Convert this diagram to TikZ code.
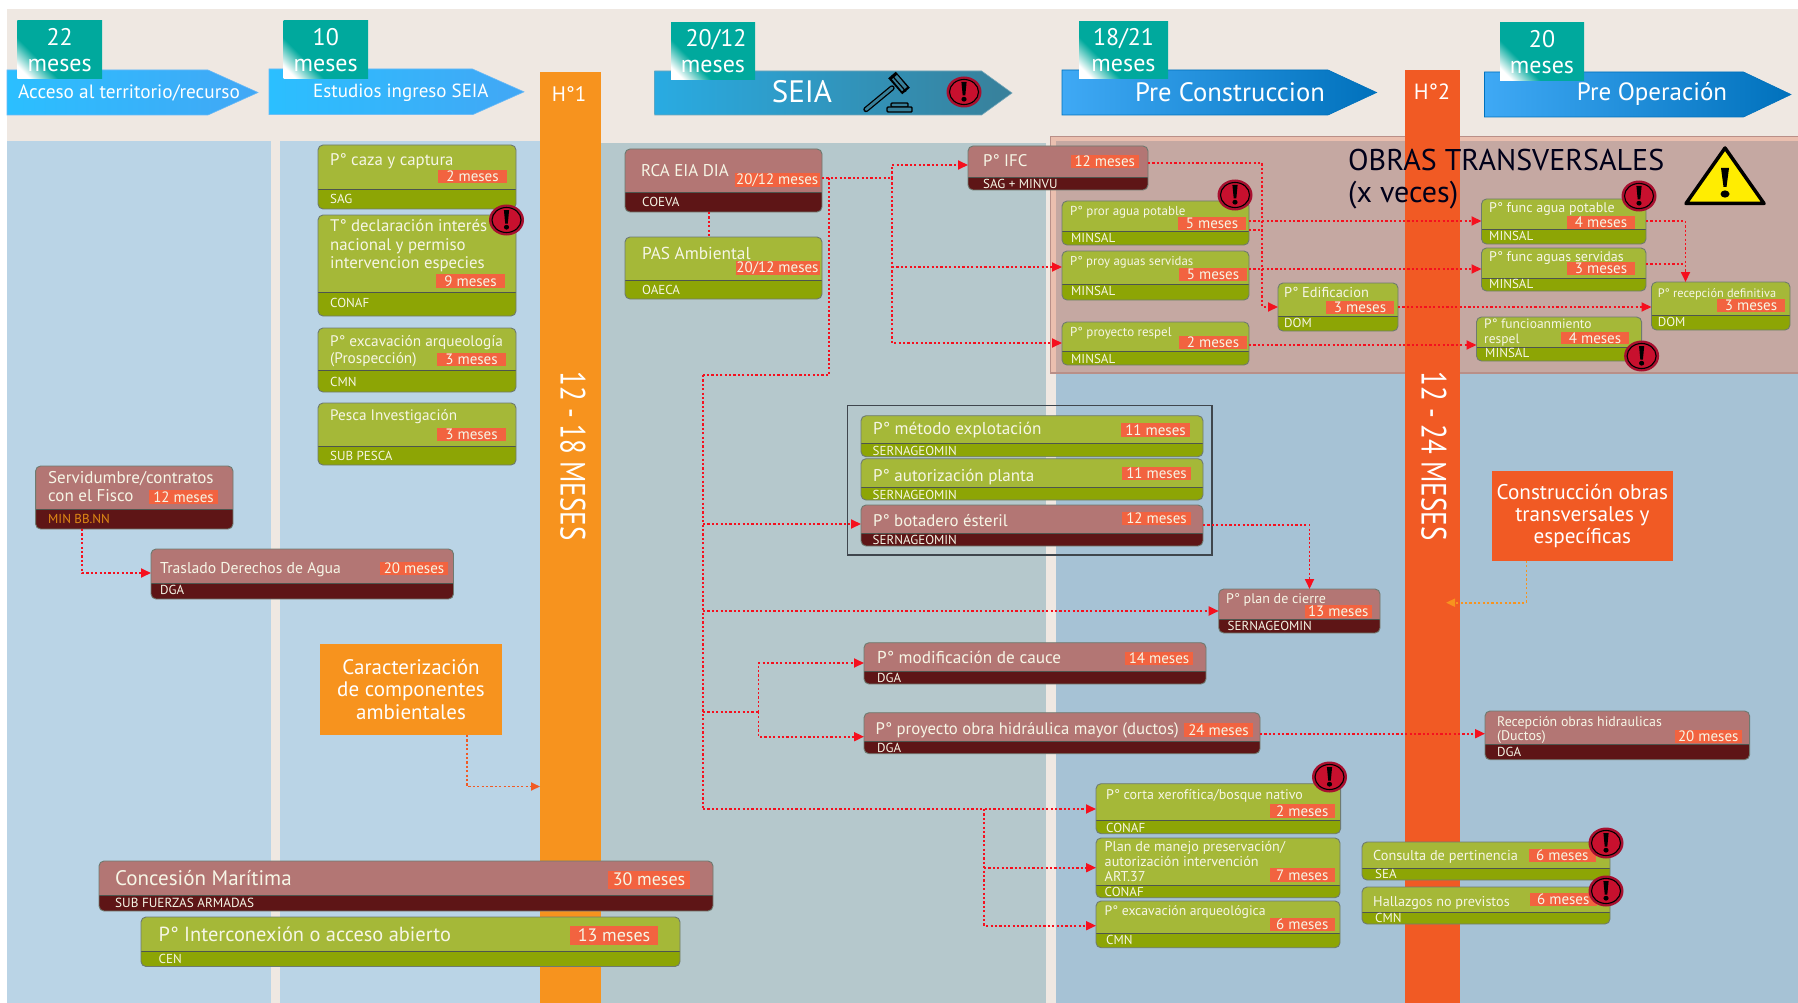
\documentclass[tikz,border=0pt]{standalone}
\usepackage{fontspec}
\setmainfont{PT Sans}
\usetikzlibrary{arrows.meta,fit,calc}
\definecolor{beige}{HTML}{EFE8E2}
\definecolor{panelA}{HTML}{BAD4E6}
\definecolor{panelB}{HTML}{B5C8CC}
\definecolor{panelC}{HTML}{A6C2D5}
\definecolor{pinkA}{HTML}{C5A8A2}
\definecolor{pinkB}{HTML}{EBBFAF}
\definecolor{pinkL}{HTML}{B98F88}
\definecolor{gL}{HTML}{A5B838}
\definecolor{gD}{HTML}{8DA505}
\definecolor{mL}{HTML}{B37674}
\definecolor{mD}{HTML}{5E1516}
\definecolor{bdgc}{HTML}{F26340}
\definecolor{tagc}{HTML}{00A99D}
\definecolor{orgA}{HTML}{F7931E}
\definecolor{orgB}{HTML}{F15A24}
\definecolor{linkc}{HTML}{F5101E}
\definecolor{cream}{HTML}{F6F6E6}
\definecolor{frameC}{HTML}{6E7A70}
\definecolor{warnR}{HTML}{C8102E}
\definecolor{warnE}{HTML}{A80F2F}
\definecolor{minorg}{HTML}{E08A14}
\definecolor{aBlue}{HTML}{2BBFFF}
\definecolor{bBlue}{HTML}{42A7F5}
\definecolor{cBlue}{HTML}{29ABE2}
\definecolor{dBlue}{HTML}{38809A}
\definecolor{eBlue}{HTML}{3FA9F5}
\definecolor{fBlue}{HTML}{0071BC}
\pgfdeclareverticalshading{tagsh}{100bp}{color(0bp)=(white);color(21bp)=(white);color(35bp)=(tagc);color(100bp)=(tagc)}
\tikzset{
 boxframe/.style={draw=frameC,line width=.9pt,rounded corners=5pt,inner sep=0pt,outer sep=0pt},
 divline/.style={draw=frameC!70!black,line width=.9pt},
 link/.style={draw=linkc,line width=1.8pt,dash pattern=on 2.2pt off 2.2pt},
 linka/.style={link,-{Triangle[length=10pt,width=9pt]}},
 tagbox/.style={shading=tagsh,shading angle=-45,inner sep=0pt,outer sep=0pt,text=white,align=center,font=\fontsize{24}{26}\selectfont},
 colorbar/.style={inner sep=0pt,outer sep=0pt},
 block/.style={inner sep=0pt,outer sep=0pt,align=center,text=white}
}
\newcommand{\tbox}[7]{%
 \fill[#7L,rounded corners=5pt] (#2,#3) rectangle (#4,#5);
 \begin{scope}
 \clip[rounded corners=5pt] (#2,#3) rectangle (#4,#5);
 \fill[#7D] (#2,#6) rectangle (#4,#5);
 \draw[divline] (#2,#6) -- (#4,#6);
 \end{scope}
 \node[boxframe,fit={(#2,#3) (#4,#5)}] (#1) {};
}
\newcommand{\lab}[6]{\node[anchor=base west,inner sep=0pt,yshift=-0.36*#4pt,text=#5,font=\fontsize{#4}{#4}\selectfont] (#1) at (#2,#3) {#6};}
\newcommand{\mlab}[7]{\node[anchor=west,align=left,inner sep=0pt,text=#6,font=\fontsize{#4}{#5}\selectfont] (#1) at (#2,#3) {#7};}
\newcommand{\bdg}[6]{\node[fill=bdgc,inner sep=0pt,outer sep=0pt,text=cream,minimum width={(#4-#2)*1pt},minimum height={(#5-#3)*1pt},font=\fontsize{15}{15}\selectfont] (#1) at ({(#2+#4)/2},{(#3+#5)/2}) {#6};}
\newcommand{\warnicon}[2]{%
 \begin{scope}[shift={(#1,#2)}]
 \fill[warnE] (0,0) ellipse (17.5 and 15.5);
 \draw[black,fill=warnR,line width=1.1pt] (0,0) ellipse (14.5 and 12.5);
 \fill[black] (-2.6,-10) -- (2.6,-10) -- (1.3,3.5) -- (-1.3,3.5) -- cycle;
 \fill[black] (0,7.2) ellipse (2.6 and 2.4);
 \end{scope}}
% x1, xshoulder, xtip, ytop, ybottom, colL, colR, edge
\newcommand{\phase}[8]{%
 \shade[left color=#6,right color=#7] (#1,#4) -- (#2,#4) -- (#3,{(#4+#5)/2}) -- (#2,#5) -- (#1,#5) -- cycle;
 \draw[#8,line width=.6pt] (#1,#4) -- (#2,#4) -- (#3,{(#4+#5)/2}) -- (#2,#5) -- (#1,#5) -- cycle;}
\newcommand{\tagb}[6]{\node[tagbox,minimum width={(#4-#2)*1pt},minimum height={(#5-#3)*1pt}] (#1) at ({(#2+#4)/2},{(#3+#5)/2}) {#6};}
\begin{document}
\begin{tikzpicture}[x=1pt,y=-1pt]
\useasboundingbox (0,0) rectangle (1798,1003);
\fill[white] (0,0) rectangle (1798,1003);
\fill[beige] (7,9) rectangle (1798,1003);
% panels
\fill[panelA] (7,141) rectangle (270.5,1003);
\fill[panelA] (280,141) rectangle (540,1003);
\fill[panelB] (601,143) rectangle (1046,1003);
\fill[panelC] (1056,141) rectangle (1798,1003);
% obras transversales panel
\fill[pinkB] (1050,136) rectangle (1798,373);
\fill[pinkA] (1056,141) rectangle (1798,372);
\draw[pinkL,line width=.8pt] (1050,373) -- (1050,136) -- (1798,136);
\draw[pinkL,line width=1.2pt] (1050,373) -- (1798,373);
% milestone bars
\node[colorbar,fill=orgA,fit={(540,72) (601,1003)}] (barA) {};
\node[colorbar,fill=orgB,fit={(1405,70) (1460,1003)}] (barB) {};
% phase arrows
\phase{7}{208}{258}{70}{115}{aBlue}{bBlue}{bBlue!80!white}
\phase{269}{472.5}{524}{69}{114.7}{aBlue}{bBlue}{bBlue!80!white}
\phase{654.6}{981.6}{1012}{71}{115}{cBlue}{dBlue}{dBlue!70!white}
\phase{1062}{1328}{1376.6}{70}{115}{eBlue}{fBlue}{fBlue}
\phase{1484.5}{1743.5}{1791}{72}{117}{eBlue}{fBlue}{fBlue}
\lab{tA}{18}{92}{19.3}{white}{Acceso al territorio/recurso}
\lab{tB}{313}{91}{19}{white}{Estudios ingreso SEIA}
\node[text=white,inner sep=0pt,font=\fontsize{31}{31}\selectfont] (tC) at (802,92) {SEIA};
\node[text=white,inner sep=0pt,font=\fontsize{26.6}{26.6}\selectfont] (tD) at (1230,92) {Pre Construccion};
\node[text=white,inner sep=0pt,font=\fontsize{25}{25}\selectfont] (tE) at (1652,94) {Pre Operación};
% duration tags
\tagb{tagA}{17.4}{21}{102}{79}{22\\meses}
\tagb{tagB}{283.5}{21}{368}{79}{10\\meses}
\tagb{tagC}{671}{23}{755}{80}{\hspace{6pt}20/12\\meses}
\tagb{tagD}{1079}{22}{1168}{79}{18/21\\meses}
\tagb{tagE}{1500}{23}{1584}{81}{20\\meses}
% gavel
\fill[black] (895.8,71.75) -- (909.8,87.75) -- (902.2,94.25) -- (888.2,78.25) -- cycle;
\fill[dBlue] (897,75) -- (907,87) -- (902,91.2) -- (892,79.2) -- cycle;
\draw[black,line width=1.2pt] (892,75.5) -- (906,91.5);
\draw[black,line width=5.4pt,line cap=round] (892,88) -- (866,109.5);
\draw[dBlue,line width=2.8pt,line cap=round] (892,88) -- (866,109.5);
\draw[black,line width=1.4pt,rounded corners=1pt,fill=dBlue] (891,103) rectangle (908,107);
\draw[black,line width=1.4pt,rounded corners=1pt,fill=dBlue] (887,107) rectangle (912,112);
% Left and study boxes
\tbox{caza}{318}{145}{516}{209}{189}{g}
\tbox{decl}{318}{215}{516}{316}{292}{g}
\tbox{exca}{318}{328}{516}{392}{370}{g}
\tbox{pesca}{318}{403}{516}{465}{446}{g}
\tbox{serv}{35.6}{466}{233}{529}{509}{m}
\tbox{tras}{151}{549}{453.5}{599}{583.5}{m}
\tbox{conc}{99}{861}{713}{911}{895}{m}
\tbox{inter}{141}{917}{680}{966.5}{951}{g}
\lab{cazaT}{330}{159}{16.8}{cream}{P° caza y captura}
\bdg{cazaB}{438}{170}{507}{183}{2 meses}
\lab{cazaA}{330}{199}{13}{cream}{SAG}
\mlab{declT}{330}{246}{16.8}{18.5}{cream}{T° declaración interés\\nacional y permiso\\intervencion especies}
\bdg{declB}{436}{274}{505}{288}{9 meses}
\lab{declA}{330}{303}{13}{cream}{CONAF}
\mlab{excaT}{330}{351}{15.3}{16.5}{cream}{P° excavación arqueología\\(Prospección)}
\bdg{excaB}{437}{353}{506}{366}{3 meses}
\lab{excaA}{330}{382}{13}{cream}{CMN}
\lab{pescaT}{330}{415}{15.2}{cream}{Pesca Investigación}
\bdg{pescaB}{437}{428}{506}{441}{3 meses}
\lab{pescaA}{330}{456}{13}{cream}{SUB PESCA}
\mlab{servT}{48}{487}{17}{18}{cream}{Servidumbre/contratos\\con el Fisco}
\bdg{servB}{149}{490}{218}{504}{12 meses}
\lab{servA}{48}{519}{13}{minorg}{MIN BB.NN}
\lab{trasT}{160}{568}{15.7}{cream}{Traslado Derechos de Agua}
\bdg{trasB}{380}{562}{448}{575}{20 meses}
\lab{trasA}{160}{590}{13}{cream}{DGA}
\lab{concT}{115}{878}{21}{cream}{Concesión Marítima}
\node[fill=bdgc,inner sep=0pt,text=cream,minimum width=82pt,minimum height=18pt,font=\fontsize{18}{18}\selectfont] (concB) at (649,879.5) {30 meses};
\lab{concA}{115}{903}{13.2}{cream}{SUB FUERZAS ARMADAS}
\lab{interT}{158.5}{934}{20.4}{cream}{P° Interconexión o acceso abierto}
\node[fill=bdgc,inner sep=0pt,text=cream,minimum width=88pt,minimum height=19pt,font=\fontsize{18}{18}\selectfont] (interB) at (614,935) {13 meses};
\lab{interA}{158.5}{959}{13}{cream}{CEN}
% SEIA boxes
\tbox{rca}{625}{149}{822}{212}{192}{m}
\tbox{pas}{625}{237}{822}{299}{280}{g}
\tbox{ifc}{968}{146}{1148}{190}{177}{m}
\lab{rcaT}{641}{170}{17}{cream}{RCA EIA DIA}
\bdg{rcaB}{735}{173}{819.5}{187}{20/12 meses}
\lab{rcaA}{642}{202}{13}{cream}{COEVA}
\lab{pasT}{642}{253}{17.3}{cream}{PAS Ambiental}
\bdg{pasB}{735.5}{261}{819.5}{275}{20/12 meses}
\lab{pasA}{642}{290}{13}{cream}{OAECA}
\lab{ifcT}{983}{160}{16.8}{cream}{P° IFC}
\bdg{ifcB}{1070.5}{155}{1139}{168}{12 meses}
\lab{ifcA}{983}{184}{13}{cream}{SAG + MINVU}
% Obras transversales boxes
\tbox{pror}{1062}{201}{1249}{245}{231}{g}
\tbox{proy}{1062}{251}{1249}{300}{284}{g}
\tbox{resp}{1062}{322}{1249}{365}{351}{g}
\tbox{edif}{1278}{283}{1398}{331}{316}{g}
\tbox{fagua}{1481.5}{199}{1646}{244}{229}{g}
\tbox{fserv}{1481.5}{248}{1646}{291}{278}{g}
\tbox{frsp}{1476.5}{317}{1641.6}{361}{347}{g}
\tbox{rdef}{1651.5}{282}{1790}{330}{315}{g}
\lab{prorT}{1070}{211}{13}{cream}{P° pror agua potable}
\bdg{prorB}{1178}{217}{1246}{230}{5 meses}
\lab{prorA}{1071}{238}{13}{cream}{MINSAL}
\lab{proyT}{1070}{261}{12.8}{cream}{P° proy aguas servidas}
\bdg{proyB}{1179}{268}{1247}{281}{5 meses}
\lab{proyA}{1071}{291}{13}{cream}{MINSAL}
\lab{respT}{1070}{332}{13}{cream}{P° proyecto respel}
\bdg{respB}{1179}{336}{1247}{349}{2 meses}
\lab{respA}{1071}{359}{13}{cream}{MINSAL}
\lab{edifT}{1284}{292}{14.4}{cream}{P° Edificacion}
\bdg{edifB}{1326}{301}{1394}{314}{3 meses}
\lab{edifA}{1284}{323}{13}{cream}{DOM}
\lab{faguaT}{1489}{207}{14}{cream}{P° func agua potable}
\bdg{faguaB}{1567}{216}{1635}{229}{4 meses}
\lab{faguaA}{1489}{236}{13}{cream}{MINSAL}
\lab{fservT}{1489}{256}{14}{cream}{P° func aguas servidas}
\bdg{fservB}{1567}{262}{1635}{275}{3 meses}
\lab{fservA}{1489}{284}{13}{cream}{MINSAL}
\mlab{frspT}{1484}{332.5}{13.5}{14.5}{cream}{P° funcioanmiento\\respel}
\bdg{frspB}{1561}{332}{1629}{344}{4 meses}
\lab{frspA}{1485}{353}{13}{cream}{MINSAL}
\lab{rdefT}{1657.6}{293}{12.3}{cream}{P° recepción definitiva}
\bdg{rdefB}{1717}{299}{1785}{312}{3 meses}
\lab{rdefA}{1657.6}{322}{13}{cream}{DOM}
% Sernageomin group
\node[draw=black!80!cyan,line width=1.4pt,inner sep=0pt,outer sep=0pt,fit={(847.6,405.7) (1212,555)}] (grp) {};
\tbox{meto}{861}{415.7}{1203}{456.7}{443.7}{g}
\tbox{auto}{861}{458.7}{1203}{500}{487}{g}
\tbox{bota}{861}{505}{1203}{546}{533}{m}
\lab{metoT}{873}{428}{17.2}{cream}{P° método explotación}
\bdg{metoB}{1121}{423}{1190}{437}{11 meses}
\lab{metoA}{872.5}{451}{13}{cream}{SERNAGEOMIN}
\lab{autoT}{873}{475}{17}{cream}{P° autorización planta}
\bdg{autoB}{1122}{467}{1191}{480}{11 meses}
\lab{autoA}{872.5}{495}{13}{cream}{SERNAGEOMIN}
\lab{botaT}{873}{520}{16.8}{cream}{P° botadero ésteril}
\bdg{botaB}{1122}{512}{1191}{525}{12 meses}
\lab{botaA}{872.5}{540}{13}{cream}{SERNAGEOMIN}
% Middle boxes
\tbox{cier}{1218.7}{589}{1380}{633}{619}{m}
\lab{cierT}{1226}{598}{14}{cream}{P° plan de cierre}
\bdg{cierB}{1304.5}{605}{1372}{618}{13 meses}
\lab{cierA}{1227.5}{626}{13}{cream}{SERNAGEOMIN}
\tbox{modi}{864}{642.7}{1206}{684}{671}{m}
\lab{modiT}{877}{657}{17.2}{cream}{P° modificación de cauce}
\bdg{modiB}{1125}{652}{1193}{665}{14 meses}
\lab{modiA}{877}{678}{13}{cream}{DGA}
\tbox{hidr}{864}{712.7}{1260}{753.7}{741.7}{m}
\lab{hidrT}{875.5}{728}{16.7}{cream}{P° proyecto obra hidráulica mayor (ductos)}
\bdg{hidrB}{1184}{723}{1253}{737}{24 meses}
\lab{hidrA}{877}{747.6}{13}{cream}{DGA}
\tbox{rhid}{1485}{711}{1749.6}{759.7}{744}{m}
\mlab{rhidT}{1497}{730}{13.9}{14}{cream}{Recepción obras hidraulicas\\(Ductos)}
\bdg{rhidB}{1674.5}{730}{1742}{743}{20 meses}
\lab{rhidA}{1497}{751.7}{13}{cream}{DGA}
% Lower boxes
\tbox{cort}{1096}{783.7}{1340.6}{833.7}{820}{g}
\lab{cortT}{1106}{794}{14}{cream}{P° corta xerofítica/bosque nativo}
\bdg{cortB}{1269.6}{804}{1335}{818}{2 meses}
\lab{cortA}{1106}{828}{13}{cream}{CONAF}
\tbox{plan}{1096}{838}{1340}{897.7}{885}{g}
\mlab{planT}{1104.5}{861.5}{14.2}{14.7}{cream}{Plan de manejo preservación/\\autorización intervención\\ART.37}
\bdg{planB}{1269.6}{868}{1335}{881.7}{7 meses}
\lab{planA}{1104.5}{891.7}{13}{cream}{CONAF}
\tbox{arqu}{1096}{901}{1340}{947.7}{933}{g}
\lab{arquT}{1104.5}{911}{13.7}{cream}{P° excavación arqueológica}
\bdg{arquB}{1269.6}{917.7}{1335}{931}{6 meses}
\lab{arquA}{1106}{940}{13}{cream}{CMN}
\tbox{cons}{1362}{842}{1610}{880}{868}{g}
\lab{consT}{1373}{855}{14.3}{cream}{Consulta de pertinencia}
\bdg{consB}{1528.6}{849}{1596}{861.7}{6 meses}
\lab{consA}{1375}{874}{13}{cream}{SEA}
\tbox{hall}{1362}{887}{1610}{924}{912.7}{g}
\lab{hallT}{1373}{901.7}{14.2}{cream}{Hallazgos no previstos}
\bdg{hallB}{1529.5}{893}{1597}{905.7}{6 meses}
\lab{hallA}{1375}{918}{13}{cream}{CMN}
% blocks with text
\node[block,fill=orgA,minimum width=182pt,minimum height=91pt,font=\fontsize{21}{22.3}\selectfont] (carac) at (411,689.5) {Caracterización\\de componentes\\ambientales};
\node[block,fill=orgB,minimum width=181pt,minimum height=90pt,font=\fontsize{21.2}{22.3}\selectfont] (const) at (1582.4,515.8) {Construcción obras\\transversales y\\específicas};
% connectors
\coordinate (j1) at (892,178);
\coordinate (j2) at (829,178);
\coordinate (j3) at (703,375);
\coordinate (j4) at (758.5,711.7);
\coordinate (j5) at (984,809);
\draw[link] (rca.south -| 709,0) -- (pas.north -| 709,0);
\draw[link] (rca.east |- j1) -- (j1);
\draw[linka] (j1) |- (ifc.west |- 0,165);
\draw[linka] (j1) |- (resp.west |- 0,343);
\draw[linka] (j1 |- 0,267) -- (proy.west |- 0,267);
\draw[link] (j2) |- (j3);
\draw[link] (j3) -- (j3 |- 0,809);
\draw[linka] (j3 |- 0,524) -- (bota.west |- 0,524);
\draw[linka] (j3 |- 0,611) -- (cier.west |- 0,611);
\draw[link] (j3 |- j4) -- (j4);
\draw[linka] (j4) |- (modi.west |- 0,663);
\draw[linka] (j4) |- (hidr.west |- 0,736.7);
\draw[linka] (j3 |- j5) -- (cort.west |- j5);
\draw[linka] (j5) |- (arqu.west |- 0,925.7);
\draw[linka] (j5 |- 0,867.7) -- (plan.west |- 0,867.7);
\coordinate (j6) at (1262,163);
\draw[linka] (ifc.east |- j6) -- (j6) |- (edif.west |- 0,307);
\draw[linka] (pror.east |- 0,221) -- (fagua.west |- 0,221);
\draw[link] (pror.east |- 0,230) -- (j6 |- 0,230);
\draw[linka] (proy.east |- 0,269) -- (fserv.west |- 0,269);
\draw[linka] (resp.east |- 0,345) -- (frsp.west |- 0,345);
\draw[linka] (edif.east |- 0,307) -- (rdef.west |- 0,307);
\coordinate (j7) at (1685.5,221);
\draw[link] (fagua.east |- j7) -- (j7);
\draw[linka] (j7) -- (rdef.north -| j7);
\draw[link] (fserv.east |- 0,264) -- (j7 |- 0,264);
\draw[linka] (bota.east |- 0,525) -| (cier.north -| 1309.5,0);
\draw[linka] (hidr.east |- 0,733.7) -- (rhid.west |- 0,733.7);
\draw[linka] (serv.south -| 82,0) |- (tras.west |- 0,573);
\draw[link,draw=orgB,-{Triangle[length=9pt,width=8pt,fill=orgB]}] (carac.south -| 467,0) |- (barA.west |- 0,786.5);
\coordinate (j8) at (1446,602.7);
\draw[link,draw=orgA,-{Triangle[length=9pt,width=8pt,fill=orgA]}] (const.south -| 1526.5,0) |- (j8);
% warnings
\warnicon{506.5}{220}
\warnicon{964}{92}
\warnicon{1235}{195}
\warnicon{1639}{196}
\warnicon{1641.6}{356}
\warnicon{1329.5}{777}
\warnicon{1606}{843}
\warnicon{1606}{891}
% bars texts
\node[text=white,inner sep=0pt,font=\fontsize{21}{21}\selectfont] (h1) at (569,94) {H°1};
\node[text=white,inner sep=0pt,font=\fontsize{22}{22}\selectfont] (h2) at (1432,92) {H°2};
\node[text=white,inner sep=0pt,rotate=-90,font=\fontsize{27}{27}\selectfont] (m1) at (573,456) {\scalebox{1}[1.3]{12 - 18 MESES}};
\node[text=white,inner sep=0pt,rotate=-90,font=\fontsize{27}{27}\selectfont] (m2) at (1434,456) {\scalebox{1}[1.3]{12 - 24 MESES}};
% obras transversales title
\node[anchor=west,align=left,inner sep=0pt,text=black!90!blue,font=\fontsize{30}{32.5}\selectfont] (obras) at (1348,179) {OBRAS TRANSVERSALES\\(x veces)};
\draw[black,line width=3.5pt,line join=round,fill=yellow!95!orange] (1725,148) -- (1764,203.5) -- (1686,203.5) -- cycle;
\fill[black] (1721,168) -- (1729,168) -- (1726.5,187) -- (1723.5,187) -- cycle;
\fill[black] (1725,194) ellipse (4.5 and 3.6);
\end{tikzpicture}
\end{document}
